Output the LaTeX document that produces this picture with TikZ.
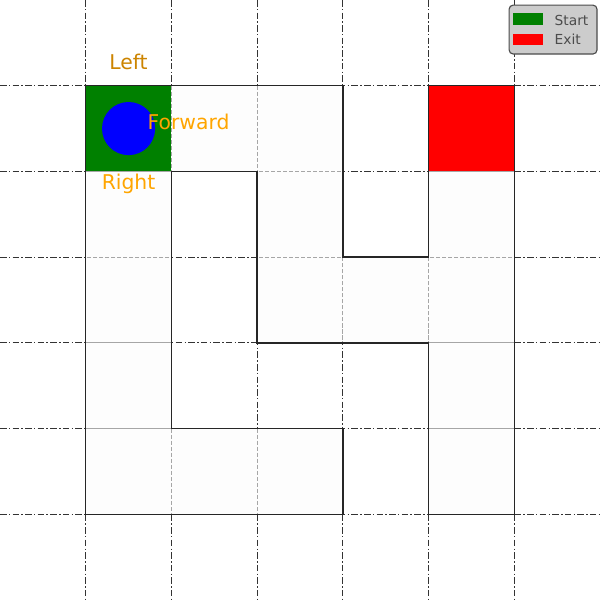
\documentclass[tikz,border=0pt]{standalone}
\usepackage{fontspec}
\setmainfont{DejaVu Sans}
\definecolor{openfill}{HTML}{FDFDFD}
\definecolor{startgreen}{HTML}{008000}
\definecolor{exitred}{HTML}{FF0000}
\definecolor{hintorange}{HTML}{FFA500}

\begin{document}
\begin{tikzpicture}[x=1.2cm, y=-1.2cm,
  gridline/.style={draw=black!80, line width=0.45pt,
    dash pattern=on 2.6pt off 0.9pt on 0.6pt off 0.9pt},
  opencell/.style={fill=openfill, draw=black!35, line width=0.4pt,
    dash pattern=on 1.6pt off 0.8pt},
  mazewall/.style={draw=black!85, line width=0.55pt, line join=miter},
  hint/.style={text=hintorange, font=\fontsize{8.1}{9}\selectfont,
    inner sep=0pt, anchor=base},
  legendbox/.style={fill=black!20, draw=black!70, line width=0.45pt,
    rounded corners=1.6pt},
  legendtext/.style={text=black!70, font=\fontsize{5.5}{6}\selectfont,
    inner sep=0pt, anchor=base west}]
  \useasboundingbox (0,0) rectangle (7,7);

  % grid
  \foreach \k in {1,...,6} {
    \draw[gridline] (\k,0) -- (\k,7);
    \draw[gridline] (0,\k) -- (7,\k);
  }

  % open cells
  \foreach \c/\r in {2/1,3/1,1/2,3/2,5/2,1/3,3/3,4/3,5/3,1/4,5/4,1/5,2/5,3/5,5/5}
    \draw[opencell] (\c,\r) rectangle ++(1,1);
  \draw[opencell, fill=startgreen] (1,1) rectangle ++(1,1);
  \draw[opencell, fill=exitred] (5,1) rectangle ++(1,1);

  % walls round the open cells
  \draw[mazewall] (1,1) -- (4,1) -- (4,3) -- (5,3) -- (5,1) -- (6,1) -- (6,6)
    -- (5,6) -- (5,4) -- (3,4) -- (3,2) -- (2,2) -- (2,5) -- (4,5) -- (4,6)
    -- (1,6) -- cycle;

  % agent
  \fill[blue] (1.5,1.5) circle[radius=0.31];
  \node[hint, text=hintorange!80!black] (left) at (1.5,0.81) {Left};
  \node[hint] (forward) at (2.2,1.51) {Forward};
  \node[hint] (right) at (1.5,2.205) {Right};

  % legend
  \draw[legendbox] (5.94,0.06) rectangle (6.965,0.63);
  \fill[startgreen] (5.99,0.155) rectangle (6.34,0.292);
  \fill[exitred] (5.99,0.397) rectangle (6.34,0.525);
  \node[legendtext] (startlbl) at (6.465,0.292) {Start};
  \node[legendtext] (exitlbl) at (6.465,0.525) {Exit};
\end{tikzpicture}
\end{document}
